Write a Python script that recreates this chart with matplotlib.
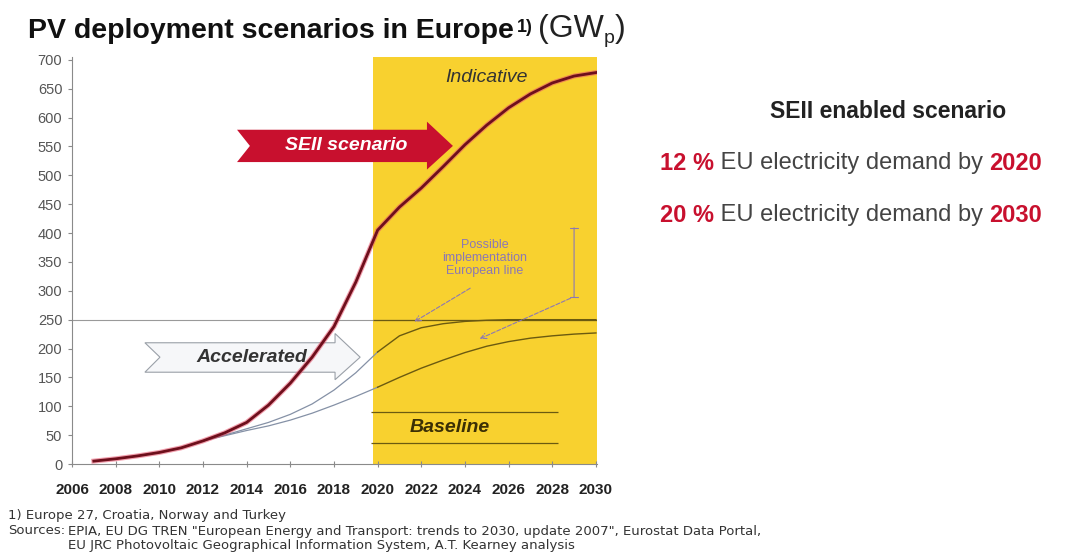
import matplotlib
matplotlib.use("Agg")
import matplotlib.pyplot as plt
import matplotlib.patheffects as pe
from matplotlib.patches import Polygon

plt.rcParams['font.family'] = ['Liberation Sans', 'DejaVu Sans']

# SEII scenario (GWp)
years = list(range(2007, 2031))
seii = [5, 9, 14, 20, 28, 40, 54, 72, 102, 140, 185, 238, 315, 405,
        445, 478, 515, 553, 587, 617, 641, 660, 672, 678]

# Accelerated scenario, upper and lower curve
acc_years = list(range(2012, 2031))
acc_high = [40, 50, 61, 72, 86, 104, 128, 158, 194, 222, 236, 243, 247,
            249, 250, 250, 250, 250, 250]
acc_low = [40, 49, 58, 66, 76, 88, 102, 117, 133, 150, 166, 180, 193,
           204, 212, 218, 222, 225, 227]

target_level = 250
baseline_band = [36, 90]
x_ticks = list(range(2006, 2031, 2))
y_ticks = list(range(0, 701, 50))

W, H = 1075, 556
YELLOW = '#f8d12f'
OLIVE = '#6b5a10'
GREY_LINE = '#8591a6'
RED = '#c8102e'
PURPLE = '#8c78b4'

fig = plt.figure(figsize=(W / 100, H / 100), dpi=100)
ax = fig.add_axes([72 / W, 1 - 464 / H, (597 - 72) / W, (464 - 57) / H])
ax.set_xlim(2006, 2030.05)
ax.set_ylim(0, 705)

# indicative period
ax.axvspan(2019.8, 2030.05, color=YELLOW, lw=0, zorder=1)

# reference level
ax.axhline(target_level, color='#9a9a9a', lw=0.8, zorder=2)
ax.hlines(target_level, 2019.8, 2030.05, color=OLIVE, lw=0.9, zorder=2.5)

# accelerated curves (grey before 2020, dark inside the yellow band)
ax.plot(acc_years[:9], acc_high[:9], color=GREY_LINE, lw=0.9, zorder=3)
ax.plot(acc_years[:9], acc_low[:9], color=GREY_LINE, lw=0.9, zorder=3)
ax.plot(acc_years[8:], acc_high[8:], color=OLIVE, lw=1.0, zorder=3)
ax.plot(acc_years[8:], acc_low[8:], color=OLIVE, lw=1.0, zorder=3)

# baseline box lines
ax.hlines(baseline_band, 2019.7, 2028.25, color=OLIVE, lw=0.9, zorder=3)

# main SEII curve
ax.plot(years, seii, color='#6e0f1c', lw=2, zorder=6,
        path_effects=[pe.Stroke(linewidth=3.6, foreground='#e8506a', alpha=0.55),
                      pe.Normal()])

# SEII arrow
seii_arrow = Polygon([(2013.56, 579), (2022.26, 579), (2022.26, 593), (2023.45, 551),
                      (2022.26, 510), (2022.26, 523), (2013.56, 523), (2014.15, 551)],
                     closed=True, facecolor=RED, edgecolor='none', zorder=4)
ax.add_patch(seii_arrow)
ax.text(2018.55, 552, "SEII scenario", color='white', fontsize=14, fontweight='bold',
        fontstyle='italic', ha='center', va='center', zorder=5)

# Accelerated chevron
acc_arrow = Polygon([(2009.34, 210), (2018.05, 210), (2018.05, 226), (2019.2, 185),
                     (2018.05, 146), (2018.05, 159), (2009.34, 159), (2010.03, 185)],
                    closed=True, facecolor='#f6f7f9', edgecolor='#9aa0a8', lw=0.8, zorder=2.8)
ax.add_patch(acc_arrow)
ax.text(2014.25, 185, "Accelerated", color='#333333', fontsize=14, fontweight='bold',
        fontstyle='italic', ha='center', va='center', zorder=4)

ax.text(2023.3, 64, "Baseline", color='#3b2f05', fontsize=14, fontweight='bold',
        fontstyle='italic', ha='center', va='center', zorder=4)
ax.text(2024.97, 669, "Indicative", color='#333333', fontsize=14,
        fontstyle='italic', ha='center', va='center', zorder=4)

ax.text(2024.9, 357, "Possible\nimplementation\nEuropean line", color=PURPLE, fontsize=9,
        ha='center', va='center', linespacing=1.15, zorder=4)
arrow_kw = dict(arrowstyle='->', linestyle='--', color=PURPLE, lw=0.8)
ax.annotate("", xy=(2021.57, 244), xytext=(2024.35, 307), arrowprops=arrow_kw, zorder=4)
ax.annotate("", xy=(2024.56, 215), xytext=(2028.95, 289), arrowprops=arrow_kw, zorder=4)
ax.annotate("", xy=(2029.0, 414), xytext=(2029.0, 284),
            arrowprops=dict(arrowstyle='|-|', color=PURPLE, lw=0.8,
                            mutation_scale=3), zorder=4)

# axes styling
for side in ['top', 'right']:
    ax.spines[side].set_visible(False)
for side in ['left', 'bottom']:
    ax.spines[side].set_color('#8a8a8a')
    ax.spines[side].set_linewidth(0.8)
    ax.spines[side].set_zorder(7)
ax.set_yticks(y_ticks)
ax.set_xticks(x_ticks)
ax.set_xticklabels([str(y) for y in x_ticks])
ax.tick_params(axis='y', direction='out', length=3, color='#8a8a8a',
               labelsize=10.5, labelcolor='#555555', pad=4)
ax.tick_params(axis='x', direction='inout', length=4, color='#8a8a8a',
               labelsize=11, labelcolor='#222222', pad=12)
for lab in ax.get_xticklabels():
    lab.set_fontweight('bold')

# title, chained pieces
t1 = fig.text(28 / W, 1 - 38 / H, "PV deployment scenarios in Europe", fontsize=20.5,
              fontweight='bold', color='#111111', va='baseline')
t2 = ax.annotate("1)", xy=(1, 1), xycoords=t1, xytext=(2, -1), textcoords='offset points',
                 fontsize=13, fontweight='bold', color='#111111', va='top', ha='left')
t3 = ax.annotate("(GW", xy=(1, 0), xycoords=(t2, t1), xytext=(4, 0), textcoords='offset points',
                 fontsize=23, color='#222222', va='bottom', ha='left')
t4 = ax.annotate("p", xy=(1, 0), xycoords=t3, xytext=(0, -2), textcoords='offset points',
                 fontsize=14, color='#222222', va='bottom', ha='left')
ax.annotate(")", xy=(1, 0), xycoords=t4, xytext=(0, 2), textcoords='offset points',
            fontsize=23, color='#222222', va='bottom', ha='left')

# right hand side statements
fig.text(888 / W, 1 - 112 / H, "SEII enabled scenario", fontsize=16.5, fontweight='bold',
         color='#222222', ha='center', va='center')


def statement(y_px, share, year):
    a = fig.text(660 / W, 1 - y_px / H, share, fontsize=17, fontweight='bold',
                 color=RED, va='center')
    b = ax.annotate(" EU electricity demand by ", xy=(1, 0.5), xycoords=a,
                    fontsize=17, color='#444444', va='center', ha='left')
    ax.annotate(year, xy=(1, 0.5), xycoords=b, fontsize=17, fontweight='bold',
                color=RED, va='center', ha='left')


statement(163, "12 %", "2020")
statement(215, "20 %", "2030")

# footnotes
foot = dict(fontsize=9.5, color='#333333', va='center', family=['DejaVu Sans'])
fig.text(8 / W, 1 - 516 / H, "1) Europe 27, Croatia, Norway and Turkey", **foot)
fig.text(8 / W, 1 - 531 / H, "Sources:", **foot)
fig.text(68 / W, 1 - 531 / H, "EPIA, EU DG TREN \"European Energy and Transport: trends to 2030, "
         "update 2007\", Eurostat Data Portal,", **foot)
fig.text(68 / W, 1 - 546 / H, "EU JRC Photovoltaic Geographical Information System, "
         "A.T. Kearney analysis", **foot)

fig.savefig("out.png", dpi=100)
